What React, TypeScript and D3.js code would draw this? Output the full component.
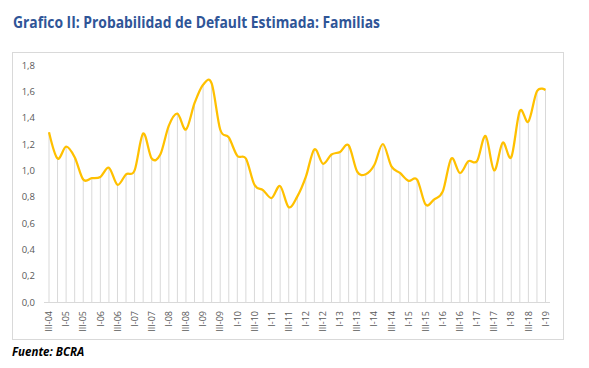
import React, { useRef, useEffect } from "react";
import * as d3 from "d3";

// quarters from III-04 to I-19
const quarters = [
  "III-04", "IV-04",
  "I-05", "II-05", "III-05", "IV-05",
  "I-06", "II-06", "III-06", "IV-06",
  "I-07", "II-07", "III-07", "IV-07",
  "I-08", "II-08", "III-08", "IV-08",
  "I-09", "II-09", "III-09", "IV-09",
  "I-10", "II-10", "III-10", "IV-10",
  "I-11", "II-11", "III-11", "IV-11",
  "I-12", "II-12", "III-12", "IV-12",
  "I-13", "II-13", "III-13", "IV-13",
  "I-14", "II-14", "III-14", "IV-14",
  "I-15", "II-15", "III-15", "IV-15",
  "I-16", "II-16", "III-16", "IV-16",
  "I-17", "II-17", "III-17", "IV-17",
  "I-18", "II-18", "III-18", "IV-18",
  "I-19",
];

const pd = [
  1.29, 1.09,
  1.18, 1.10, 0.93, 0.94,
  0.95, 1.02, 0.89, 0.97,
  1.00, 1.28, 1.09, 1.12,
  1.34, 1.43, 1.31, 1.51,
  1.65, 1.66, 1.31, 1.25,
  1.11, 1.09, 0.89, 0.85,
  0.79, 0.88, 0.72, 0.80,
  0.95, 1.16, 1.05, 1.12,
  1.14, 1.19, 0.99, 0.97,
  1.04, 1.20, 1.03, 0.98,
  0.92, 0.93, 0.74, 0.78,
  0.84, 1.09, 0.98, 1.07,
  1.07, 1.26, 1.00, 1.21,
  1.10, 1.45, 1.37, 1.60,
  1.61,
];

const yTicks = [0, 0.2, 0.4, 0.6, 0.8, 1.0, 1.2, 1.4, 1.6, 1.8];

const title = "Grafico II: Probabilidad de Default Estimada: Familias";
const source = "Fuente: BCRA";

export default function App() {
  const svgRef = useRef<SVGSVGElement>(null);

  useEffect(() => {
    const w = 589;
    const h = 368;
    const svg = d3.select(svgRef.current);
    svg.selectAll("*").remove();

    svg.attr("width", w).attr("height", h).style("background", "#ffffff");

    // title
    svg
      .append("text")
      .attr("x", 13)
      .attr("y", 28)
      .attr("textLength", 367)
      .attr("lengthAdjust", "spacingAndGlyphs")
      .style("font-family", "'Open Sans', sans-serif")
      .style("font-weight", "bold")
      .style("font-size", "15.5px")
      .style("fill", "#2F5597")
      .text(title);

    // chart frame
    svg
      .append("rect")
      .attr("x", 12.5)
      .attr("y", 52.5)
      .attr("width", 551)
      .attr("height", 287)
      .attr("fill", "none")
      .attr("stroke", "#d9d9d9");

    // scales
    const xScale = d3
      .scalePoint<string>()
      .domain(quarters)
      .range([49, 545.5]);

    const yScale = d3.scaleLinear().domain([0, 1.8]).range([302, 65]);

    // y axis labels
    svg
      .append("g")
      .selectAll("text")
      .data(yTicks)
      .join("text")
      .attr("x", 35)
      .attr("y", (d) => yScale(d) + 3.5)
      .attr("text-anchor", "end")
      .style("font-family", "'Open Sans', sans-serif")
      .style("font-size", "9.5px")
      .style("fill", "#595959")
      .text((d) => d3.format(".1f")(d).replace(".", ","));

    // drop lines
    svg
      .append("g")
      .selectAll("line")
      .data(pd)
      .join("line")
      .attr("x1", (d, i) => xScale(quarters[i])!)
      .attr("x2", (d, i) => xScale(quarters[i])!)
      .attr("y1", (d) => yScale(d))
      .attr("y2", yScale(0))
      .attr("stroke", "#d9d9d9")
      .attr("stroke-width", 1);

    // x baseline
    svg
      .append("line")
      .attr("x1", 44)
      .attr("x2", 550)
      .attr("y1", yScale(0) + 0.5)
      .attr("y2", yScale(0) + 0.5)
      .attr("stroke", "#d9d9d9");

    // x labels, every other quarter
    svg
      .append("g")
      .selectAll("text")
      .data(quarters.filter((q, i) => i % 2 === 0))
      .join("text")
      .attr(
        "transform",
        (d) => `translate(${xScale(d)! + 3.2}, 311) rotate(-90)`
      )
      .attr("text-anchor", "end")
      .style("font-family", "'Open Sans', sans-serif")
      .style("font-size", "9px")
      .style("fill", "#595959")
      .text((d) => d);

    // line
    const line = d3
      .line<number>()
      .x((d, i) => xScale(quarters[i])!)
      .y((d) => yScale(d))
      .curve(d3.curveCardinal);

    svg
      .append("path")
      .datum(pd)
      .attr("d", line)
      .attr("fill", "none")
      .attr("stroke", "#FFC000")
      .attr("stroke-width", 2.25);

    // source
    svg
      .append("text")
      .attr("x", 12)
      .attr("y", 356)
      .style("font-family", "'Open Sans', sans-serif")
      .style("font-weight", "bold")
      .style("font-style", "italic")
      .style("font-size", "11.5px")
      .style("fill", "#000000")
      .text(source);
  }, []);

  return (
    <div>
      <svg
        ref={svgRef}
        style={{ position: "absolute", left: 0, top: 0, display: "block" }}
      ></svg>
    </div>
  );
}
